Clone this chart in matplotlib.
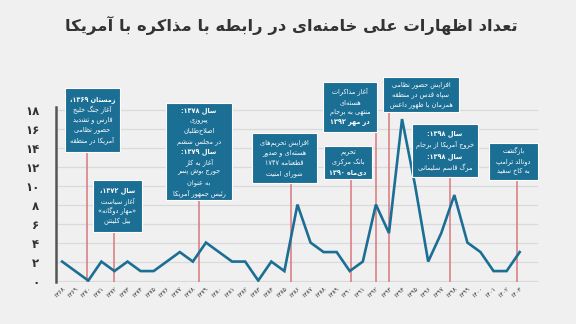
import matplotlib
matplotlib.use("Agg")
import matplotlib.pyplot as plt
from matplotlib.patches import Rectangle
from matplotlib.transforms import blended_transform_factory

plt.rcParams['font.family'] = ['DejaVu Sans']

# ---------------------------------------------------------------- data
years = list(range(1368, 1404))
counts = [2, 1, 0, 2, 1, 2, 1, 1, 2, 3, 2, 4, 3, 2, 2, 0, 2, 1,
          8, 4, 3, 3, 1, 2, 8, 5, 17, 10, 2, 5, 9, 4, 3, 1, 1, 3]
y_ticks = list(range(0, 19, 2))

title = "تعداد اظهارات علی خامنه‌ای در رابطه با مذاکره با آمریکا"

# event positions on the year axis
event_years = [1369.9, 1372.0, 1378.5, 1385.5, 1390.1, 1392.0, 1393.0, 1397.7, 1402.8]

# event notes: (text, bold)
event_notes = [
    [("زمستان ۱۳۶۹،", True), ("آغاز جنگ خلیج", False), ("فارس و تشدید", False),
     ("حضور نظامی", False), ("آمریکا در منطقه", False)],
    [("سال ۱۳۷۲،", True), ("آغاز سیاست", False), ("«مهار دوگانه»", False),
     ("بیل کلینتن", False)],
    [("سال ۱۳۷۸:", True), ("پیروزی", False), ("اصلاح‌طلبان", False),
     ("در مجلس ششم", False), ("سال ۱۳۷۹:", True), ("آغاز به کار", False),
     ("جورج بوش پسر", False), ("به عنوان", False), ("رئیس جمهور آمریکا", False)],
    [("افزایش تحریم‌های", False), ("هسته‌ای و صدور", False),
     ("قطعنامه ۱۷۴۷", False), ("شورای امنیت", False)],
    [("تحریم", False), ("بانک مرکزی", False), ("دی‌ماه ۱۳۹۰", True)],
    [("آغاز مذاکرات", False), ("هسته‌ای", False), ("منتهی به برجام", False),
     ("در مهر ۱۳۹۲", True)],
    [("افزایش حضور نظامی", False), ("سپاه قدس در منطقه", False),
     ("همزمان با ظهور داعش", False)],
    [("سال ۱۳۹۸:", True), ("خروج آمریکا از برجام", False), ("سال ۱۳۹۸:", True),
     ("مرگ قاسم سلیمانی", False)],
    [("بازگشت", False), ("دونالد ترامپ", False), ("به کاخ سفید", False)],
]

# ---------------------------------------------------------------- layout
W, H = 576, 324
# note boxes in pixels: left, top, right, bottom, line spacing
box_px = [
    (65, 88, 120, 152, 10.0),
    (93, 180, 142, 232, 10.5),
    (166, 103, 232, 200, 10.3),
    (252, 133, 317, 183, 10.5),
    (324, 146, 372, 179, 10.0),
    (323, 82, 377, 132, 10.5),
    (383, 77, 459, 112, 9.7),
    (412, 124, 478, 177, 11.5),
    (489, 143, 538, 180, 10.3),
]

BG = "#f0f0f0"
BLUE = "#1b6e94"
RED = "#d9777d"
GRID = "#dadada"
DARK = "#333333"

# ---------------------------------------------------------------- Arabic script shaping
# forms: isolated, final, initial, medial
FORMS = {
    '\u0621': ('\uFE80', None, None, None),
    '\u0622': ('\uFE81', '\uFE82', None, None),
    '\u0623': ('\uFE83', '\uFE84', None, None),
    '\u0624': ('\uFE85', '\uFE86', None, None),
    '\u0625': ('\uFE87', '\uFE88', None, None),
    '\u0626': ('\uFE89', '\uFE8A', '\uFE8B', '\uFE8C'),
    '\u0627': ('\uFE8D', '\uFE8E', None, None),
    '\u0628': ('\uFE8F', '\uFE90', '\uFE91', '\uFE92'),
    '\u0629': ('\uFE93', '\uFE94', None, None),
    '\u062A': ('\uFE95', '\uFE96', '\uFE97', '\uFE98'),
    '\u062B': ('\uFE99', '\uFE9A', '\uFE9B', '\uFE9C'),
    '\u062C': ('\uFE9D', '\uFE9E', '\uFE9F', '\uFEA0'),
    '\u062D': ('\uFEA1', '\uFEA2', '\uFEA3', '\uFEA4'),
    '\u062E': ('\uFEA5', '\uFEA6', '\uFEA7', '\uFEA8'),
    '\u062F': ('\uFEA9', '\uFEAA', None, None),
    '\u0630': ('\uFEAB', '\uFEAC', None, None),
    '\u0631': ('\uFEAD', '\uFEAE', None, None),
    '\u0632': ('\uFEAF', '\uFEB0', None, None),
    '\u0633': ('\uFEB1', '\uFEB2', '\uFEB3', '\uFEB4'),
    '\u0634': ('\uFEB5', '\uFEB6', '\uFEB7', '\uFEB8'),
    '\u0635': ('\uFEB9', '\uFEBA', '\uFEBB', '\uFEBC'),
    '\u0636': ('\uFEBD', '\uFEBE', '\uFEBF', '\uFEC0'),
    '\u0637': ('\uFEC1', '\uFEC2', '\uFEC3', '\uFEC4'),
    '\u0638': ('\uFEC5', '\uFEC6', '\uFEC7', '\uFEC8'),
    '\u0639': ('\uFEC9', '\uFECA', '\uFECB', '\uFECC'),
    '\u063A': ('\uFECD', '\uFECE', '\uFECF', '\uFED0'),
    '\u0641': ('\uFED1', '\uFED2', '\uFED3', '\uFED4'),
    '\u0642': ('\uFED5', '\uFED6', '\uFED7', '\uFED8'),
    '\u0643': ('\uFED9', '\uFEDA', '\uFEDB', '\uFEDC'),
    '\u0644': ('\uFEDD', '\uFEDE', '\uFEDF', '\uFEE0'),
    '\u0645': ('\uFEE1', '\uFEE2', '\uFEE3', '\uFEE4'),
    '\u0646': ('\uFEE5', '\uFEE6', '\uFEE7', '\uFEE8'),
    '\u0647': ('\uFEE9', '\uFEEA', '\uFEEB', '\uFEEC'),
    '\u0648': ('\uFEED', '\uFEEE', None, None),
    '\u0649': ('\uFEEF', '\uFEF0', None, None),
    '\u064A': ('\uFEF1', '\uFEF2', '\uFEF3', '\uFEF4'),
    '\u067E': ('\uFB56', '\uFB57', '\uFB58', '\uFB59'),
    '\u0686': ('\uFB7A', '\uFB7B', '\uFB7C', '\uFB7D'),
    '\u0698': ('\uFB8A', '\uFB8B', None, None),
    '\u06A9': ('\uFB8E', '\uFB8F', '\uFB90', '\uFB91'),
    '\u06AF': ('\uFB92', '\uFB93', '\uFB94', '\uFB95'),
    '\u06CC': ('\uFBFC', '\uFBFD', '\uFBFE', '\uFBFF'),
}
LAM_ALEF = {
    '\u0622': ('\uFEF5', '\uFEF6'),
    '\u0623': ('\uFEF7', '\uFEF8'),
    '\u0625': ('\uFEF9', '\uFEFA'),
    '\u0627': ('\uFEFB', '\uFEFC'),
}
MIRROR = {'«': '»', '»': '«', '(': ')', ')': '('}
DIGITS = set('0123456789۰۱۲۳۴۵۶۷۸۹')


def _joins_next(c):
    f = FORMS.get(c)
    return f is not None and f[2] is not None


def _joins_prev(c):
    f = FORMS.get(c)
    return f is not None and f[1] is not None


def shape(text):
    out = []
    n = len(text)
    i = 0
    while i < n:
        c = text[i]
        if c not in FORMS:
            if c != '\u200c':
                out.append(c)
            i += 1
            continue
        prev = text[i - 1] if i > 0 else None
        link_prev = prev is not None and _joins_next(prev) and _joins_prev(c)
        if c == '\u0644' and i + 1 < n and text[i + 1] in LAM_ALEF:
            iso, fin = LAM_ALEF[text[i + 1]]
            out.append(fin if link_prev else iso)
            i += 2
            continue
        nxt = text[i + 1] if i + 1 < n else None
        link_next = _joins_next(c) and nxt is not None and _joins_prev(nxt)
        f = FORMS[c]
        if link_prev and link_next:
            g = f[3]
        elif link_prev:
            g = f[1]
        elif link_next:
            g = f[2]
        else:
            g = f[0]
        out.append(g)
        i += 1
    return ''.join(out)


def rtl(text):
    """Shape and reorder a right-to-left line for left-to-right drawing."""
    s = shape(text)[::-1]
    s = ''.join(MIRROR.get(ch, ch) for ch in s)
    # numbers keep their own left-to-right order
    res, run = [], []
    for ch in s:
        if ch in DIGITS:
            run.append(ch)
        else:
            if run:
                res.extend(run[::-1])
                run = []
            res.append(ch)
    if run:
        res.extend(run[::-1])
    return ''.join(res)


def fa(num):
    return str(num).translate(str.maketrans('0123456789', '۰۱۲۳۴۵۶۷۸۹'))


# ---------------------------------------------------------------- figure
fig = plt.figure(figsize=(W / 100, H / 100), dpi=100, facecolor=BG)
ax_left, ax_right, ax_top, ax_bottom = 56, 538, 106.7, 282
ax = fig.add_axes([ax_left / W, 1 - ax_bottom / H,
                   (ax_right - ax_left) / W, (ax_bottom - ax_top) / H])
ax.set_facecolor(BG)

xs = list(range(len(years)))
ax.plot(xs, counts, color=BLUE, lw=1.9, solid_joinstyle='miter', zorder=4)

ax.set_xlim(-0.47, 36.4)
ax.set_ylim(-0.15, 18.3)

ax.set_yticks(y_ticks)
ax.set_yticklabels([fa(v) for v in y_ticks], fontsize=8.5, fontweight='bold', color=DARK)
ax.set_xticks(xs)
ax.set_xticklabels([fa(y) for y in years], rotation=45, ha='right', va='top',
                   rotation_mode='anchor', fontsize=4.3, color=DARK)
ax.tick_params(axis='both', length=0)
ax.tick_params(axis='y', pad=12)
ax.tick_params(axis='x', pad=3)

ax.yaxis.grid(True, color=GRID, lw=0.9)
ax.set_axisbelow(True)
for side in ('top', 'right', 'bottom'):
    ax.spines[side].set_visible(False)
ax.spines['left'].set_color('#555555')
ax.spines['left'].set_linewidth(1.8)

# title
fig.text(0.505, 1 - 25 / H, rtl(title), ha='center', va='center',
         fontsize=11.8, fontweight='bold', color='#333333')

# event markers and notes
trans = blended_transform_factory(ax.transData, fig.transFigure)
for ev, (l, t, r, b, sp), note in zip(event_years, box_px, event_notes):
    xi = ev - years[0]
    ax.vlines([xi], [1 - ax_bottom / H], [1 - b / H], transform=trans,
              color=RED, lw=1.1, zorder=2, clip_on=False)
    fig.add_artist(Rectangle((l / W, 1 - b / H), (r - l) / W, (b - t) / H,
                             transform=fig.transFigure, facecolor=BLUE,
                             edgecolor='white', lw=0.8, zorder=5))
    cx = (l + r) / 2
    cy = (t + b) / 2
    n = len(note)
    for k, (line, bold) in enumerate(note):
        py = cy + (k - (n - 1) / 2) * sp
        fig.text(cx / W, 1 - py / H, rtl(line), ha='center', va='center',
                 fontsize=4.7, color='white',
                 fontweight='bold' if bold else 'normal', zorder=6)

fig.savefig("out.png", dpi=100, facecolor=BG)
